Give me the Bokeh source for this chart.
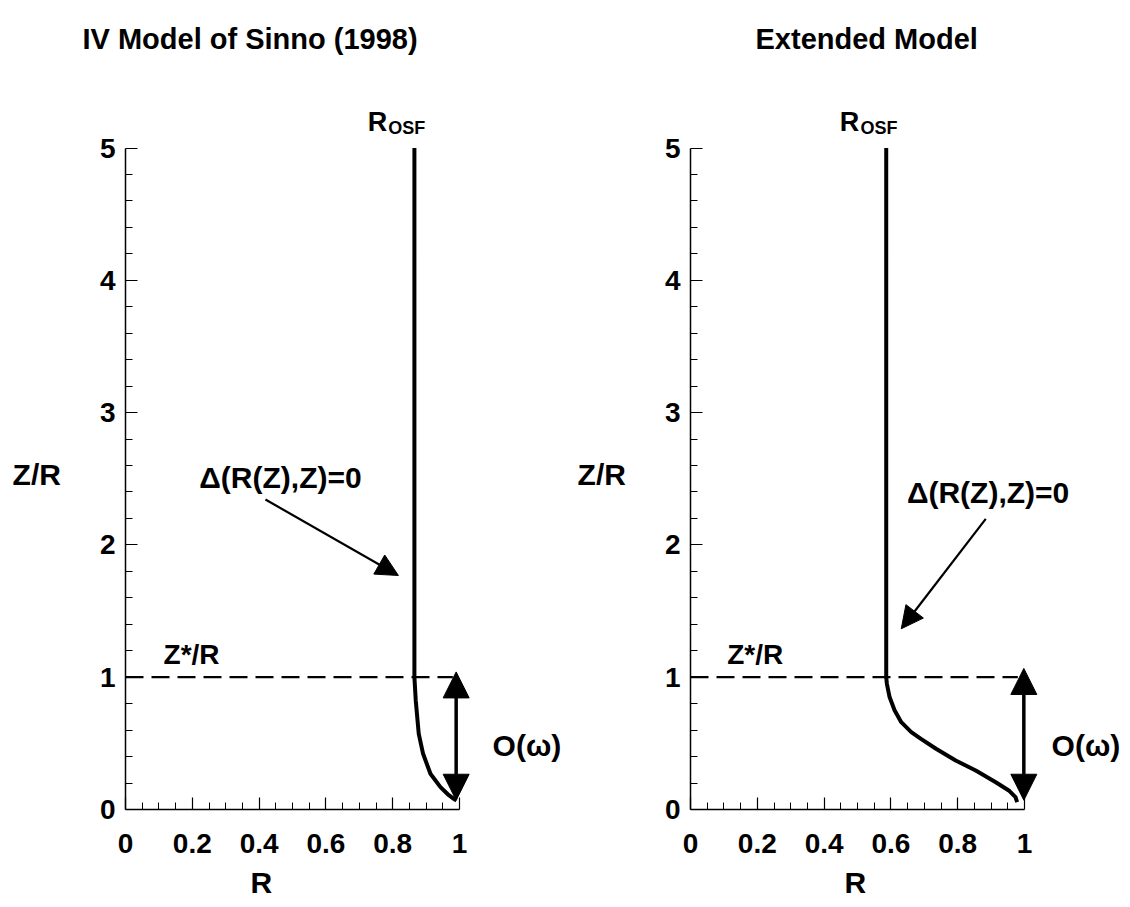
from bokeh.plotting import figure
from bokeh.models import (Range1d, FixedTicker, Label, Arrow, NormalHead,
                          NumeralTickFormatter, Title)
from bokeh.layouts import row
from bokeh.embed import file_html
from bokeh.resources import INLINE

# ---- data -------------------------------------------------------------
# IV model of Sinno (1998): OSF ring radius vs. axial position
sinno_r = [0.865, 0.865, 0.869, 0.878, 0.891, 0.913, 0.943, 0.965, 0.983, 0.991]
sinno_z = [5.0, 1.0, 0.824, 0.572, 0.421, 0.270, 0.169, 0.115, 0.081, 0.068]

# Extended model
ext_r = [0.586, 0.586, 0.588, 0.596, 0.611, 0.631, 0.661, 0.690, 0.735, 0.794,
         0.854, 0.914, 0.953, 0.973, 0.978]
ext_z = [5.0, 1.0, 0.95, 0.85, 0.75, 0.66, 0.585, 0.534, 0.459, 0.37,
         0.295, 0.206, 0.144, 0.093, 0.055]

z_star = 1.0                      # Z*/R level (dashed line)
dashed_r = [0.0, 0.98]

omega_arrow_left = dict(r=0.99, z0=0.07, z1=1.04)
omega_arrow_right = dict(r=0.998, z0=0.07, z1=1.066)

x_ticks = [0, 0.2, 0.4, 0.6, 0.8, 1]
x_minor = [0.05, 0.1, 0.15, 0.25, 0.3, 0.35, 0.45, 0.5, 0.55,
           0.65, 0.7, 0.75, 0.85, 0.9, 0.95]
y_ticks = [0, 1, 2, 3, 4, 5]
y_minor = [0.2, 0.4, 0.6, 0.8, 1.2, 1.4, 1.6, 1.8, 2.2, 2.4, 2.6, 2.8,
           3.2, 3.4, 3.6, 3.8, 4.2, 4.4, 4.6, 4.8]

FONT = "Liberation Sans"
W, H = 565, 907
LEFT, BOTTOM, TOP = 125, 98, 60
PX_R = 334.0      # pixels per unit R
PX_Z = 132.3      # pixels per unit Z/R


def make_panel(title, title_offset, xlabel_offset):
    x_end = (W - LEFT) / PX_R
    y_end = (H - BOTTOM - TOP) / PX_Z
    p = figure(width=W, height=H, output_backend="svg", toolbar_location=None,
               x_range=Range1d(0, x_end), y_range=Range1d(0, y_end),
               min_border_left=LEFT, min_border_bottom=BOTTOM,
               min_border_top=TOP, min_border_right=0, title=title)
    p.outline_line_color = None
    p.xgrid.visible = False
    p.ygrid.visible = False
    p.background_fill_color = "white"
    p.border_fill_color = "white"

    p.title.align = "left"
    p.title.offset = title_offset
    p.title.text_font = FONT
    p.title.text_font_style = "bold"
    p.title.text_font_size = "29px"
    p.title.text_color = "black"
    p.title.standoff = 12

    p.xaxis.ticker = FixedTicker(ticks=x_ticks, minor_ticks=x_minor)
    p.yaxis.ticker = FixedTicker(ticks=y_ticks, minor_ticks=y_minor)
    p.xaxis.bounds = (0, 1)
    p.yaxis.bounds = (0, 5)
    for ax in (p.xaxis[0], p.yaxis[0]):
        ax.formatter = NumeralTickFormatter(format="0.[0]")
        ax.axis_line_width = 1.5
        ax.axis_line_color = "black"
        ax.major_tick_line_color = "black"
        ax.minor_tick_line_color = "black"
        ax.major_tick_line_width = 1.2
        ax.minor_tick_line_width = 1
        ax.major_tick_in = 12
        ax.major_tick_out = 0
        ax.minor_tick_in = 7
        ax.minor_tick_out = 0
        ax.major_label_text_font = FONT
        ax.major_label_text_font_style = "bold"
        ax.major_label_text_font_size = "28px"
        ax.major_label_text_color = "black"
        ax.axis_label_text_font = FONT
        ax.axis_label_text_font_style = "bold"
        ax.axis_label_text_font_size = "30px"
        ax.axis_label_text_color = "black"
    p.xaxis.major_label_standoff = 24
    p.yaxis.major_label_standoff = 10
    # vertical axis title sits level with Z/R = 2.5
    p.yaxis.axis_label = "\n\nZ/R"
    p.yaxis.axis_label_orientation = "horizontal"
    p.yaxis.axis_label_standoff = 36

    # horizontal axis title, placed under the axis
    p.add_layout(Title(text="R", align="left", offset=xlabel_offset,
                       text_font=FONT, text_font_style="bold",
                       text_font_size="30px", text_color="black", standoff=16),
                 "below")
    return p


def tag(p, x, y, text, size, align="left"):
    p.add_layout(Label(x=x, y=y, text=text, text_font=FONT, text_font_style="bold",
                       text_font_size=size, text_align=align,
                       text_baseline="alphabetic", text_color="black"))


def head(size):
    return NormalHead(size=size, fill_color="black", line_color="black", line_width=1)


def dress(p, rosf_x, delta_xy, zstar_x, omega_x, omega_arrow, delta_arrow):
    tag(p, rosf_x, 5.20, "R", "27px")
    tag(p, rosf_x + 0.062, 5.148, "OSF", "18px")
    tag(p, delta_xy[0], delta_xy[1], "\u0394(R(Z),Z)=0", "30px", "center")
    tag(p, zstar_x, 1.17, "Z*/R", "28px")
    tag(p, omega_x, 0.486, "O(\u03c9)", "30px")

    # dashed Z*/R level
    p.line(dashed_r, [z_star, z_star], line_color="black", line_width=2.2,
           line_dash="18 8")

    # O(omega) double-headed arrow
    p.add_layout(Arrow(start=head(26), end=head(26),
                       x_start=omega_arrow["r"], y_start=omega_arrow["z0"],
                       x_end=omega_arrow["r"], y_end=omega_arrow["z1"],
                       line_width=3.5, line_color="black"))
    # pointer to the Delta = 0 curve
    (xs, ys), (xe, ye) = delta_arrow
    p.add_layout(Arrow(end=head(22), x_start=xs, y_start=ys, x_end=xe, y_end=ye,
                       line_width=2.2, line_color="black"))


left = make_panel("IV Model of Sinno (1998)", -43, 125)
left.line(sinno_r, sinno_z, line_color="black", line_width=4, line_join="round")
dress(left, 0.725, (0.464, 2.51), 0.114, 1.099, omega_arrow_left,
      ((0.419, 2.343), (0.817, 1.769)))

right = make_panel("Extended Model", 65, 154)
right.line(ext_r, ext_z, line_color="black", line_width=4, line_join="round")
dress(right, 0.447, (0.891, 2.396), 0.110, 1.081, omega_arrow_right,
      ((0.884, 2.197), (0.631, 1.366)))

layout = row(left, right)
open("out.html", "w").write(file_html(layout, INLINE))
